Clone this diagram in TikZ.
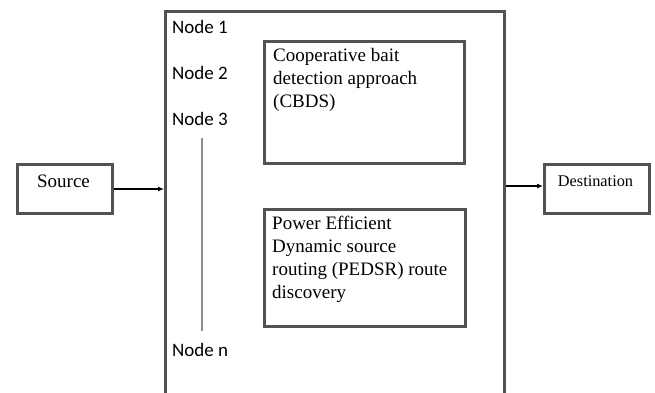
\documentclass[tikz,border=0pt]{standalone}
\usepackage{fontspec}
\setmainfont{Liberation Serif}
\newfontfamily\labelfont{Carlito}
\usetikzlibrary{arrows.meta,shadows}

\tikzset{
  boxframe/.style={draw=black!68, line width=3pt, fill=white,
    drop shadow={shadow xshift=1.5pt, shadow yshift=-1.5pt, fill=black!25, opacity=1},
    inner sep=0pt, anchor=north west},
  serifbody/.style={font=\fontsize{19}{23}\selectfont, inner sep=0pt},
  nodelabel/.style={font=\labelfont\fontsize{19}{23}\selectfont, inner sep=0pt, anchor=base west},
  flow/.style={-{Latex[length=6pt,width=5pt]}, line width=1.1pt, black}
}

\begin{document}
\begin{tikzpicture}[x=1pt,y=-1pt]
\useasboundingbox (0,0) rectangle (655,392);

% central network block, open towards the bottom
\node[draw=black!68, line width=3pt, minimum width=339pt, minimum height=420pt,
      anchor=north west, inner sep=0pt] (frame) at (164,10) {};

% node list on the left of the block
\node[nodelabel] (n1) at (172,33) {Node 1};
\node[nodelabel] (n2) at (172,79) {Node 2};
\node[nodelabel] (n3) at (172,125) {Node 3};
\node[nodelabel] (nn) at (172,356) {Node n};
\coordinate (lineTop) at (202,138);
\coordinate (lineBot) at (202,331);
\draw[black!45, line width=1.3pt] (lineTop) -- (lineBot);

% inner processing boxes
\node[boxframe, minimum width=200pt, minimum height=122pt] (cbds) at (263,40) {};
\node[serifbody, align=left, anchor=north west] (cbdstext) at (273,48.5)
  {Cooperative bait\\detection approach\\(CBDS)};

\node[boxframe, minimum width=201pt, minimum height=117pt] (pedsr) at (263,208) {};
\node[serifbody, align=left, anchor=north west] (pedsrtext) at (272,215.5)
  {Power Efficient\\Dynamic source\\routing (PEDSR) route\\discovery};

% source and destination
\node[boxframe, minimum width=95pt, minimum height=49pt] (src) at (16,163) {};
\node[serifbody, anchor=base] (srctext) at (63.5,187) {Source};

\node[boxframe, minimum width=105pt, minimum height=49pt] (dst) at (543,163) {};
\node[font=\fontsize{16.3}{20}\selectfont, inner sep=0pt, anchor=base] (dsttext) at (595.5,186) {Destination};

% connectors
\draw[flow] (src.east) -- (src.east -| frame.west);
\draw[flow] ([yshift=3pt]dst.west -| frame.east) -- ([yshift=3pt]dst.west);
\end{tikzpicture}
\end{document}
